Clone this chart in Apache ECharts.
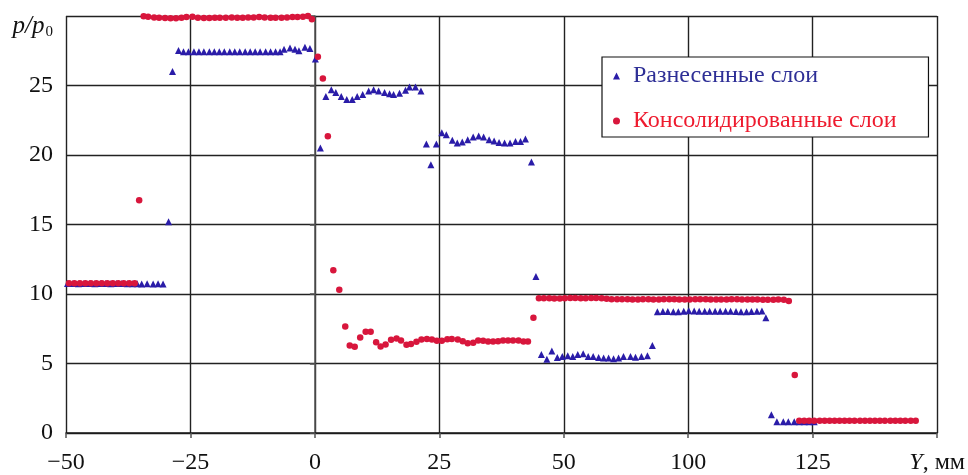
<!DOCTYPE html>
<html>
<head>
<meta charset="utf-8">
<script src="https://cdn.jsdelivr.net/npm/echarts@6/dist/echarts.min.js"></script>
<style>
  html, body { margin: 0; padding: 0; background: #ffffff; }
  #chart { width: 968px; height: 475px; }
</style>
</head>
<body>
<div id="chart"></div>
<script>
// Tick labels as printed under the axis (positions -50 … 125, step 25)
const xTickLabels = ['−50', '−25', '0', '25', '50', '100', '125', 'Y, мм'];
const yTickLabels = ['0', '5', '10', '15', '20', '25', 'p/p0'];

const seriesNames = ['Разнесенные слои', 'Консолидированные слои'];

// Разнесенные слои (triangles)
const separatedX = [
  -49.7, -48.6, -47.5, -46.4, -45.3, -44.2, -43.1, -42.0, -41.0, -39.9, -38.8, -37.7, -36.6, -35.7, -34.8, -33.7, -32.5, -31.5, -30.5,
  -29.4, -28.6,
  -27.4, -26.4, -25.4, -24.3, -23.3, -22.3, -21.2, -20.2, -19.2, -18.2, -17.1, -16.1, -15.1, -14.0, -13.0, -12.0, -11.0, -9.9, -8.9, -7.9, -7.0,
  -6.2, -5.0, -4.0, -3.2, -2.0, -1.0, 0.1,
  1.1, 2.2, 3.3, 4.2, 5.3, 6.4, 7.5, 8.5, 9.6, 10.8, 11.8, 12.8, 14.0, 15.0, 15.8, 17.0, 18.2, 19.0, 20.2, 21.3,
  22.4, 23.3, 24.4, 25.5, 26.4, 27.6, 28.6, 29.6, 30.7, 31.8, 32.9, 33.9, 35.0, 36.0, 37.0, 38.1, 39.2, 40.3, 41.3, 42.3,
  43.5, 44.4,
  45.5, 46.6, 47.6, 48.7, 49.7, 50.8, 51.8, 52.8, 53.9, 54.9, 55.9, 57.0, 58.0, 59.0, 60.0, 61.0, 62.0, 63.4, 64.4, 65.6, 66.8, 67.8,
  68.8, 69.9, 70.9, 72.0, 73.0, 74.1, 75.1, 76.2, 77.2, 78.3, 79.3, 80.4, 81.4, 82.5, 83.5, 84.6, 85.6, 86.7, 87.7, 88.8, 89.8, 90.6,
  91.7, 92.8, 94.1, 95.1, 96.3, 97.3, 98.3, 99.3, 100.3
];
const separatedY = [
  10.75, 10.75, 10.74, 10.75, 10.75, 10.74, 10.75, 10.75, 10.74, 10.75, 10.75, 10.74, 10.73, 10.73, 10.72, 10.73, 10.72, 10.73, 10.72,
  15.2, 26.0,
  27.52, 27.43, 27.43, 27.43, 27.43, 27.43, 27.43, 27.43, 27.43, 27.43, 27.43, 27.43, 27.43, 27.43, 27.43, 27.43, 27.43, 27.43, 27.43, 27.43, 27.43,
  27.6, 27.7, 27.6, 27.5, 27.76, 27.67, 26.9,
  20.5, 24.2, 24.7, 24.5, 24.2, 24.0, 24.0, 24.2, 24.35, 24.6, 24.7, 24.6, 24.5, 24.4, 24.35, 24.45, 24.66, 24.9, 24.9, 24.6,
  20.8, 19.3, 20.8, 21.6, 21.45, 21.06, 20.87, 20.94, 21.1, 21.3, 21.37, 21.3, 21.1, 21.0, 20.9, 20.87, 20.87, 20.97, 20.97, 21.15,
  19.5, 11.26,
  5.64, 5.3, 5.9, 5.43, 5.5, 5.55, 5.5, 5.64, 5.7, 5.5, 5.5, 5.43, 5.4, 5.4, 5.35, 5.4, 5.5, 5.5, 5.45, 5.5, 5.55, 6.3,
  8.72, 8.74, 8.74, 8.72, 8.72, 8.76, 8.8, 8.78, 8.76, 8.76, 8.76, 8.76, 8.76, 8.76, 8.76, 8.74, 8.72, 8.72, 8.74, 8.76, 8.78, 8.3,
  1.32, 0.81, 0.81, 0.81, 0.81, 0.81, 0.81, 0.81, 0.81
];

// Консолидированные слои (circles)
const consolidatedX = [
  -49.4, -48.3, -47.2, -46.1, -45.0, -43.9, -42.8, -41.7, -40.6, -39.5, -38.4, -37.3, -36.2,
  -35.3,
  -34.4, -33.5, -32.3, -31.3, -30.1, -29.0, -27.9, -26.8, -25.8, -24.6, -23.5, -22.3, -21.2, -20.1, -19.1, -17.9,
  -16.7, -15.6, -14.5, -13.4, -12.3, -11.2, -10.1, -8.9, -7.9, -6.7, -5.6, -4.5, -3.5, -2.4, -1.4, -0.6,
  0.6, 1.6, 2.6, 3.7, 4.9, 6.1, 7.0, 8.0, 9.1, 10.2, 11.2, 12.3, 13.2, 14.2, 15.3, 16.4, 17.3, 18.4, 19.3, 20.4,
  21.4, 22.5, 23.5, 24.5, 25.5, 26.6, 27.5, 28.7, 29.7, 30.7, 31.8, 32.8, 33.8, 34.8, 35.8, 36.8, 37.8, 38.8, 39.8, 40.9,
  41.9, 42.8, 43.9,
  45.0, 46.0, 47.1, 48.1, 49.2, 50.2, 51.3, 52.3, 53.4, 54.4, 55.5, 56.5, 57.6, 58.6, 59.6, 60.7, 61.7, 62.8, 63.8, 64.9,
  65.9, 67.0, 68.0, 69.1, 70.1, 71.2, 72.2, 73.2, 74.3, 75.3, 76.4, 77.4, 78.5, 79.5, 80.6, 81.6, 82.7, 83.7, 84.8, 85.8,
  86.9, 87.9, 88.9, 90.0, 91.0, 92.1, 93.1, 94.2, 95.2,
  96.4,
  97.3, 98.3, 99.3, 100.3, 101.4, 102.4, 103.4, 104.4, 105.4, 106.4, 107.4, 108.4, 109.5, 110.5, 111.5, 112.5, 113.5, 114.5,
  115.6, 116.6, 117.6, 118.6, 119.7, 120.7
];
const consolidatedY = [
  10.78, 10.78, 10.78, 10.78, 10.78, 10.78, 10.78, 10.78, 10.78, 10.78, 10.78, 10.78, 10.78,
  16.74,
  29.99, 29.95, 29.9, 29.88, 29.86, 29.83, 29.83, 29.88, 29.93, 29.95, 29.88, 29.86, 29.86, 29.88, 29.88, 29.88,
  29.9, 29.88, 29.88, 29.9, 29.9, 29.93, 29.9, 29.88, 29.88, 29.88, 29.9, 29.93, 29.93, 29.95, 30.0, 29.76,
  27.07, 25.5, 21.35, 11.7, 10.3, 7.66, 6.29, 6.2, 6.87, 7.28, 7.28, 6.53, 6.22, 6.36, 6.7, 6.8, 6.65, 6.34, 6.4, 6.56,
  6.72, 6.77, 6.72, 6.63, 6.63, 6.75, 6.77, 6.72, 6.6, 6.46, 6.5, 6.65, 6.63, 6.58, 6.58, 6.6, 6.65, 6.65, 6.65, 6.65,
  6.58, 6.58, 8.3,
  9.7, 9.7, 9.7, 9.68, 9.68, 9.7, 9.72, 9.72, 9.7, 9.7, 9.72, 9.72, 9.7, 9.66, 9.62, 9.62, 9.62, 9.62, 9.6, 9.6,
  9.62, 9.62, 9.6, 9.6, 9.62, 9.62, 9.62, 9.6, 9.6, 9.6, 9.62, 9.62, 9.62, 9.6, 9.6, 9.6, 9.6, 9.62, 9.62, 9.6,
  9.6, 9.6, 9.6, 9.58, 9.58, 9.58, 9.6, 9.58, 9.5,
  4.18,
  0.88, 0.88, 0.88, 0.88, 0.88, 0.88, 0.88, 0.88, 0.88, 0.88, 0.88, 0.88, 0.88, 0.88, 0.88, 0.88, 0.88, 0.88,
  0.88, 0.88, 0.88, 0.88, 0.88, 0.88
];

const zip = (xs, ys) => xs.map((x, i) => [x, ys[i]]);

const serif = '"Liberation Serif", "Times New Roman", "DejaVu Serif", serif';
const blue = '#2a1ca8';
const red = '#d8163c';

const chart = echarts.init(document.getElementById('chart'), null, { renderer: 'canvas' });

chart.setOption({
  animation: false,
  backgroundColor: '#ffffff',
  grid: { left: 66, right: 30, top: 16, bottom: 42, containLabel: false },
  xAxis: {
    type: 'value',
    min: -50, max: 125, interval: 25,
    axisLine: { show: true, onZero: false, lineStyle: { color: '#1a1a1a', width: 1.5 } },
    axisTick: { show: true, length: 5, lineStyle: { color: '#555', width: 1.5 } },
    splitLine: { show: true, lineStyle: { color: '#222', width: 1.4 } },
    axisLabel: {
      margin: 18,
      fontFamily: serif, fontSize: 24, color: '#111',
      formatter: v => {
        const s = xTickLabels[Math.round((v + 50) / 25)];
        return s === 'Y, мм' ? '{i|Y}, мм' : s;
      },
      rich: { i: { fontStyle: 'italic', fontFamily: serif, fontSize: 24, color: '#111' } }
    }
  },
  yAxis: {
    type: 'value',
    min: 0, max: 30, interval: 5,
    axisLine: { show: true, lineStyle: { color: '#555', width: 1.5 } },
    axisTick: { show: true, length: 5, lineStyle: { color: '#555', width: 1.5 } },
    splitLine: { show: true, lineStyle: { color: '#222', width: 1.4 } },
    axisLabel: {
      margin: 13,
      fontFamily: serif, fontSize: 24, color: '#111',
      formatter: v => {
        const s = yTickLabels[Math.round(v / 5)];
        return s === 'p/p0' ? '{i|p/p}{s|0}' : s;
      },
      rich: {
        i: { fontStyle: 'italic', fontFamily: serif, fontSize: 25, color: '#111', padding: [20, 0, 0, 0] },
        s: { fontFamily: serif, fontSize: 15, color: '#111', padding: [32, 0, 0, 1] }
      }
    }
  },
  legend: {
    left: 602, top: 57,
    orient: 'vertical',
    backgroundColor: '#ffffff',
    borderColor: '#111', borderWidth: 1.2,
    padding: [6, 32, 3, 11],
    itemWidth: 7, itemHeight: 7, itemGap: 19,
    textStyle: { fontFamily: serif, fontSize: 24, lineHeight: 26, padding: [0, 0, 0, 8] },
    data: [
      { name: seriesNames[0], icon: 'triangle', textStyle: { color: '#2e2f96' } },
      { name: seriesNames[1], icon: 'circle', textStyle: { color: '#ee1b2e' } }
    ]
  },
  series: [
    {
      name: seriesNames[0],
      type: 'scatter',
      symbol: 'triangle',
      symbolSize: [7, 7],
      clip: false,
      itemStyle: { color: blue, opacity: 1 },
      data: zip(separatedX, separatedY),
      z: 3
    },
    {
      name: seriesNames[1],
      type: 'scatter',
      symbol: 'circle',
      symbolSize: 6.5,
      clip: false,
      itemStyle: { color: red, opacity: 1 },
      data: zip(consolidatedX, consolidatedY),
      z: 4
    }
  ]
});
</script>
</body>
</html>
